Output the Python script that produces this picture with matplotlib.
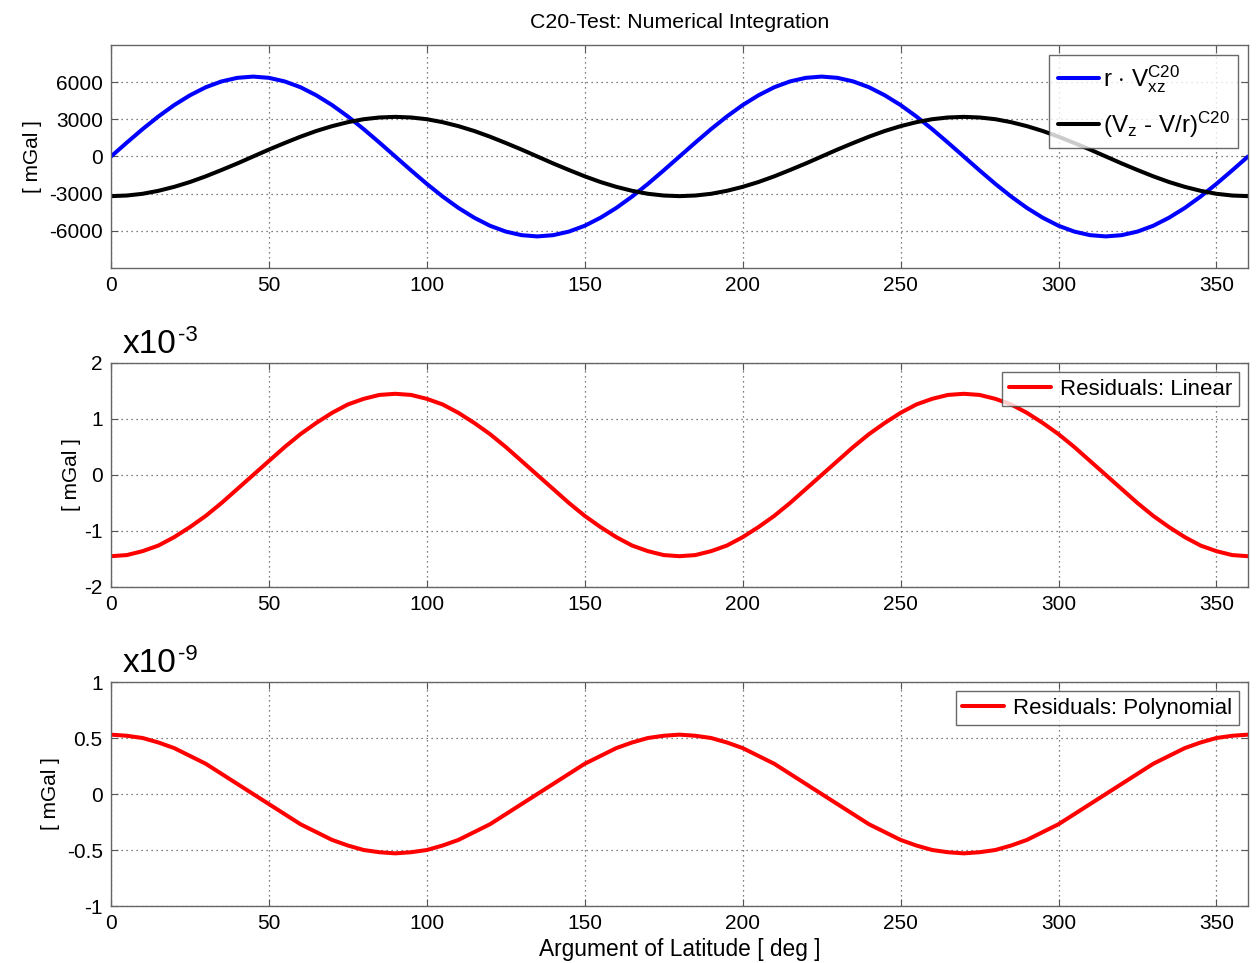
import matplotlib
matplotlib.use("Agg")
import matplotlib.pyplot as plt

plt.rcParams['font.family'] = ['Liberation Sans', 'DejaVu Sans']
plt.rcParams['mathtext.fontset'] = 'custom'
plt.rcParams['mathtext.rm'] = 'Liberation Sans'
plt.rcParams['mathtext.it'] = 'Liberation Sans'
plt.rcParams['axes.unicode_minus'] = False

# Argument of latitude [deg], every 5 degrees
lat = list(range(0, 365, 5))

# r * Vxz^C20 [mGal]
r_vxz = [0, 1120, 2210, 3230, 4150, 4940, 5590, 6060, 6350, 6450, 6350, 6060, 5590, 4940, 4150, 3230, 2210, 1120, 0,
         -1120, -2210, -3230, -4150, -4940, -5590, -6060, -6350, -6450, -6350, -6060, -5590, -4940, -4150, -3230, -2210, -1120, 0,
         1120, 2210, 3230, 4150, 4940, 5590, 6060, 6350, 6450, 6350, 6060, 5590, 4940, 4150, 3230, 2210, 1120, 0,
         -1120, -2210, -3230, -4150, -4940, -5590, -6060, -6350, -6450, -6350, -6060, -5590, -4940, -4150, -3230, -2210, -1120, 0]

# (Vz - V/r)^C20 [mGal]
vz_vr = [-3200, -3150, -3010, -2770, -2450, -2060, -1600, -1090, -560, 0, 560, 1090, 1600, 2060, 2450, 2770, 3010, 3150, 3200,
         3150, 3010, 2770, 2450, 2060, 1600, 1090, 560, 0, -560, -1090, -1600, -2060, -2450, -2770, -3010, -3150, -3200,
         -3150, -3010, -2770, -2450, -2060, -1600, -1090, -560, 0, 560, 1090, 1600, 2060, 2450, 2770, 3010, 3150, 3200,
         3150, 3010, 2770, 2450, 2060, 1600, 1090, 560, 0, -560, -1090, -1600, -2060, -2450, -2770, -3010, -3150, -3200]

# Residuals linear [x1e-3 mGal]
res_lin = [-1.45, -1.43, -1.36, -1.26, -1.11, -0.93, -0.73, -0.50, -0.25, 0.0, 0.25, 0.50, 0.73, 0.93, 1.11, 1.26, 1.36, 1.43, 1.45,
           1.43, 1.36, 1.26, 1.11, 0.93, 0.73, 0.50, 0.25, 0.0, -0.25, -0.50, -0.73, -0.93, -1.11, -1.26, -1.36, -1.43, -1.45,
           -1.43, -1.36, -1.26, -1.11, -0.93, -0.73, -0.50, -0.25, 0.0, 0.25, 0.50, 0.73, 0.93, 1.11, 1.26, 1.36, 1.43, 1.45,
           1.43, 1.36, 1.26, 1.11, 0.93, 0.73, 0.50, 0.25, 0.0, -0.25, -0.50, -0.73, -0.93, -1.11, -1.26, -1.36, -1.43, -1.45]

# Residuals polynomial [x1e-9 mGal]
res_poly = [0.53, 0.52, 0.50, 0.46, 0.41, 0.34, 0.27, 0.18, 0.09, 0.0, -0.09, -0.18, -0.27, -0.34, -0.41, -0.46, -0.50, -0.52, -0.53,
            -0.52, -0.50, -0.46, -0.41, -0.34, -0.27, -0.18, -0.09, 0.0, 0.09, 0.18, 0.27, 0.34, 0.41, 0.46, 0.50, 0.52, 0.53,
            0.52, 0.50, 0.46, 0.41, 0.34, 0.27, 0.18, 0.09, 0.0, -0.09, -0.18, -0.27, -0.34, -0.41, -0.46, -0.50, -0.52, -0.53,
            -0.52, -0.50, -0.46, -0.41, -0.34, -0.27, -0.18, -0.09, 0.0, 0.09, 0.18, 0.27, 0.34, 0.41, 0.46, 0.50, 0.52, 0.53]

x_ticks = [0, 50, 100, 150, 200, 250, 300, 350]
top_yticks = [-6000, -3000, 0, 3000, 6000]
mid_yticks = [-2, -1, 0, 1, 2]
bot_yticks = [-1, -0.5, 0, 0.5, 1]
bot_yticklabels = ['-1', '-0.5', '0', '0.5', '1']

fig = plt.figure(figsize=(12.56, 9.63), dpi=100)
FW, FH = 1256, 963
L, W = 111 / FW, (1248 - 111) / FW
def pos(top, bot):
    return [L, 1 - bot / FH, W, (bot - top) / FH]

ax1 = fig.add_axes(pos(45, 268))
ax2 = fig.add_axes(pos(363, 587))
ax3 = fig.add_axes(pos(682, 906))

FS = 15
for ax in (ax1, ax2, ax3):
    ax.set_xlim(0, 360)
    ax.set_xticks(x_ticks)
    ax.grid(True, linestyle=(0, (1, 3)), color='#555555', linewidth=0.9)
    ax.tick_params(direction='in', top=True, right=True, labelsize=FS, length=5, color='#555555', pad=6)
    for s in ax.spines.values():
        s.set_color('#666666')
        s.set_linewidth(1.0)

ax1.set_ylabel('[ mGal ]', fontsize=FS, labelpad=5)
ax2.set_ylabel('[ mGal ]', fontsize=FS, labelpad=2.5)
ax3.set_ylabel('[ mGal ]', fontsize=FS, labelpad=4.5)

line_kw = dict(lw=2.9, solid_joinstyle='round', solid_capstyle='round')
ax1.plot(lat, r_vxz, color='#0000ff', label=r'r $\cdot$ V$_{\mathregular{xz}}^{\mathregular{C20}}$', **line_kw)
ax1.plot(lat, vz_vr, color='black', label=r'(V$_{\mathregular{z}}$ - V/r)$^{\mathregular{C20}}$', **line_kw)
ax1.set_ylim(-9000, 9000)
ax1.set_yticks(top_yticks)
ax1.set_title('C20-Test: Numerical Integration', fontsize=15.3, pad=12.5)
leg1 = ax1.legend(loc='upper right', fontsize=17.5, frameon=True, fancybox=False, handlelength=1.7,
                  handletextpad=0.15, borderpad=0.35, labelspacing=0.6, borderaxespad=0.4)
leg1.get_frame().set_edgecolor('#444444')
leg1.get_frame().set_linewidth(1.0)

ax2.plot(lat, res_lin, color='#ff0000', label='Residuals: Linear', **line_kw)
ax2.set_ylim(-2, 2)
ax2.set_yticks(mid_yticks)
leg2 = ax2.legend(loc='upper right', fontsize=16, frameon=True, fancybox=False, handlelength=1.9,
                  handletextpad=0.4, borderpad=0.3, borderaxespad=0.4)
leg2.get_frame().set_edgecolor('#444444')
leg2.get_frame().set_linewidth(1.0)

ax3.plot(lat, res_poly, color='#ff0000', label='Residuals: Polynomial', **line_kw)
ax3.set_ylim(-1, 1)
ax3.set_yticks(bot_yticks)
ax3.set_yticklabels(bot_yticklabels)
ax3.set_xlabel('Argument of Latitude [ deg ]', fontsize=16.4, labelpad=3)
leg3 = ax3.legend(loc='upper right', fontsize=16, frameon=True, fancybox=False, handlelength=1.9,
                  handletextpad=0.4, borderpad=0.3, borderaxespad=0.4)
leg3.get_frame().set_edgecolor('#444444')
leg3.get_frame().set_linewidth(1.0)

# Exponent labels (x10^-3, x10^-9) above the residual panels
for base_y, exp in ((353, '-3'), (672, '-9')):
    fig.text(123 / FW, 1 - base_y / FH, 'x10', fontsize=24, va='baseline', ha='left')
    fig.text(178 / FW, 1 - (base_y - 12) / FH, exp, fontsize=16, va='baseline', ha='left')

fig.savefig('out.png', dpi=100)
